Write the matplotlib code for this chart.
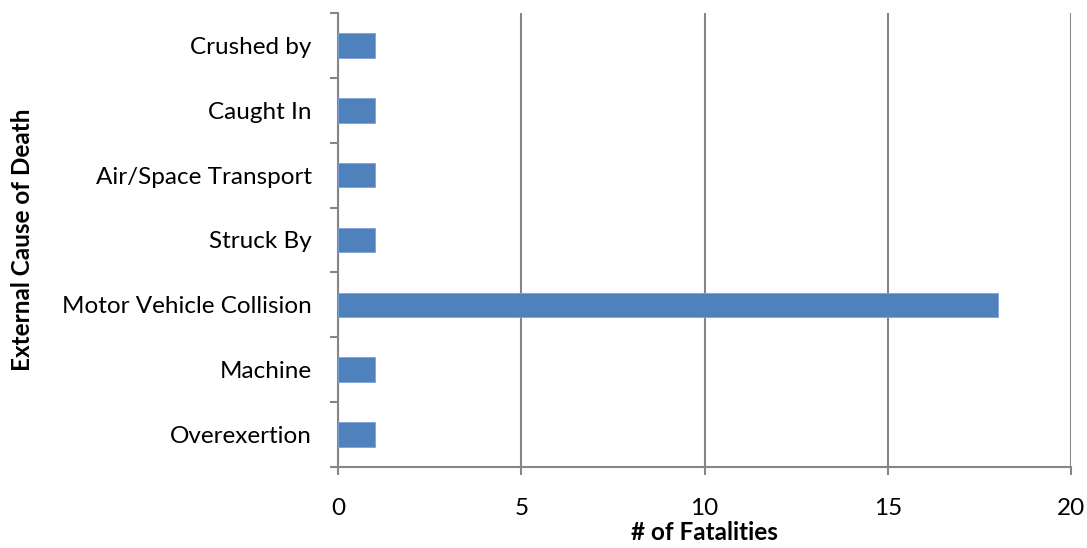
import matplotlib
matplotlib.use("Agg")
import matplotlib.pyplot as plt
from matplotlib.ticker import FixedLocator

causes = ["Overexertion", "Machine", "Motor Vehicle Collision", "Struck By",
          "Air/Space Transport", "Caught In", "Crushed by"]
fatalities = [1, 1, 18, 1, 1, 1, 1]
x_ticks = [0, 5, 10, 15, 20]

plt.rcParams['font.family'] = ['Lato', 'DejaVu Sans']

fig = plt.figure(figsize=(10.87, 5.48), dpi=100)
ax = fig.add_axes([0.311, 0.1478, 0.6743, 0.8285])

grid_c = "#868686"
pos = list(range(len(causes)))
ax.barh(pos, fatalities, height=0.38, color="#4F81BD", edgecolor="#7DA2D6", linewidth=0.6, zorder=3)

ax.set_xlim(0, 20)
ax.set_ylim(-0.5, len(causes) - 0.5)
ax.set_xticks(x_ticks)
ax.set_xticklabels([str(t) for t in x_ticks])
ax.set_yticks(pos)
ax.set_yticklabels(causes)
ax.yaxis.set_minor_locator(FixedLocator([p - 0.5 for p in pos] + [len(causes) - 0.5]))

ax.xaxis.grid(True, color=grid_c, linewidth=1.5, zorder=0)
ax.set_axisbelow(True)
for s in ["top", "right"]:
    ax.spines[s].set_visible(False)
for s in ["left", "bottom"]:
    ax.spines[s].set_color(grid_c)
    ax.spines[s].set_linewidth(1.5)

ax.tick_params(axis="x", length=6, width=1.5, color=grid_c, pad=16, labelsize=17.5)
ax.tick_params(axis="y", which="major", length=0, pad=19, labelsize=17.5)
ax.tick_params(axis="y", which="minor", length=6, width=1.5, color=grid_c)

ax.set_xlabel("# of Fatalities", fontsize=17.5, fontweight="bold", labelpad=2)
ax.set_ylabel("External Cause of Death", fontsize=17.5, fontweight="bold", labelpad=20)

fig.savefig("out.png", dpi=100)
